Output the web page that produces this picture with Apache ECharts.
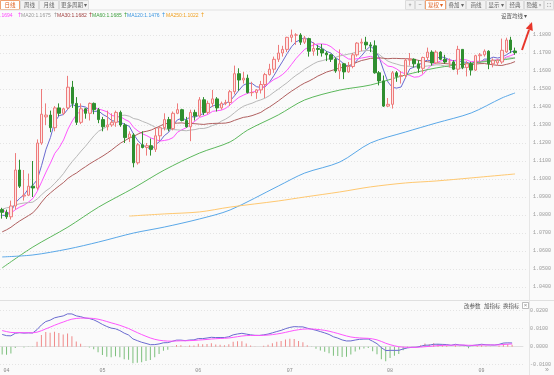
<!DOCTYPE html>
<html><head><meta charset="utf-8">
<script src="https://cdn.jsdelivr.net/npm/echarts@6/dist/echarts.min.js"></script>
<style>html,body{margin:0;padding:0;background:#fafafa}#c{width:554px;height:375px}</style>
</head><body><div id="c"></div><script>
// ---- categories (trading days) ----
const dates = ['03-31',
'04-01','04-02','04-03','04-04','04-07','04-08','04-09','04-10','04-11','04-14','04-15','04-16','04-17','04-18','04-21','04-22','04-23','04-24','04-25','04-28','04-29','04-30',
'05-01','05-02','05-05','05-06','05-07','05-08','05-09','05-12','05-13','05-14','05-15','05-16','05-19','05-20','05-21','05-22','05-23','05-26','05-27','05-28','05-29','05-30',
'06-02','06-03','06-04','06-05','06-06','06-09','06-10','06-11','06-12','06-13','06-16','06-17','06-18','06-19','06-20','06-23','06-24','06-25','06-26','06-27','06-30',
'07-01','07-02','07-03','07-04','07-07','07-08','07-09','07-10','07-11','07-14','07-15','07-16','07-17','07-18','07-21','07-22','07-23','07-24','07-25','07-28','07-29','07-30','07-31',
'08-01','08-04','08-05','08-06','08-07','08-08','08-11','08-12','08-13','08-14','08-15','08-18','08-19','08-20','08-21','08-22','08-25','08-26','08-27','08-28','08-29',
'09-01','09-02','09-03','09-04','09-05','09-08','09-09','09-10'];
const emptySlots = ['', ''];

// ---- candles ----
const openVals = [1.0830,
1.0815,1.0790,1.0850,1.1050,1.0905,1.0910,1.0960,1.0950,1.1200,1.1345,1.1355,1.1285,1.1395,1.1365,1.1395,1.1510,1.1420,1.1315,1.1390,1.1365,1.1420,1.1385,
1.1330,1.1290,1.1300,1.1315,1.1370,1.1300,1.1230,1.1245,1.1090,1.1190,1.1175,1.1185,1.1165,1.1240,1.1285,1.1330,1.1280,1.1365,1.1385,1.1325,1.1290,1.1370,
1.1350,1.1440,1.1370,1.1420,1.1445,1.1395,1.1420,1.1425,1.1485,1.1585,1.1550,1.1560,1.1480,1.1480,1.1495,1.1525,1.1580,1.1610,1.1665,1.1700,1.1720,
1.1787,1.1800,1.1800,1.1760,1.1780,1.1710,1.1725,1.1720,1.1700,1.1690,1.1665,1.1600,1.1640,1.1595,1.1625,1.1690,1.1755,1.1760,1.1745,1.1740,1.1590,1.1545,1.1405,
1.1415,1.1590,1.1570,1.1575,1.1660,1.1665,1.1640,1.1615,1.1675,1.1705,1.1645,1.1705,1.1665,1.1650,1.1650,1.1610,1.1720,1.1620,1.1640,1.1605,1.1685,
1.1690,1.1710,1.1640,1.1645,1.1650,1.1706,1.1772,1.1711];
const closeVals = [1.0815,
1.0790,1.0850,1.1050,1.0960,1.0910,1.0960,1.0950,1.1200,1.1360,1.1355,1.1285,1.1395,1.1365,1.1390,1.1510,1.1420,1.1315,1.1390,1.1365,1.1420,1.1385,1.1330,
1.1290,1.1300,1.1315,1.1370,1.1300,1.1230,1.1250,1.1090,1.1190,1.1175,1.1185,1.1165,1.1240,1.1285,1.1330,1.1280,1.1365,1.1385,1.1325,1.1290,1.1370,1.1350,
1.1440,1.1370,1.1420,1.1445,1.1395,1.1420,1.1425,1.1485,1.1585,1.1550,1.1560,1.1480,1.1480,1.1495,1.1525,1.1580,1.1610,1.1665,1.1700,1.1720,1.1787,
1.1800,1.1800,1.1760,1.1780,1.1710,1.1725,1.1720,1.1700,1.1690,1.1665,1.1600,1.1640,1.1595,1.1625,1.1690,1.1755,1.1760,1.1745,1.1740,1.1590,1.1545,1.1405,1.1415,
1.1590,1.1570,1.1575,1.1660,1.1665,1.1640,1.1615,1.1675,1.1705,1.1645,1.1705,1.1665,1.1650,1.1650,1.1610,1.1720,1.1620,1.1640,1.1605,1.1685,1.1690,
1.1710,1.1640,1.1660,1.1660,1.1715,1.1772,1.1717,1.1702];
const lowVals = [1.0780,
1.0778,1.0775,1.0830,1.0950,1.0880,1.0905,1.0900,1.0940,1.1190,1.1300,1.1260,1.1265,1.1350,1.1355,1.1385,1.1395,1.1300,1.1305,1.1335,1.1325,1.1360,1.1310,
1.1265,1.1270,1.1290,1.1290,1.1290,1.1200,1.1205,1.1065,1.1080,1.1170,1.1130,1.1130,1.1150,1.1210,1.1270,1.1265,1.1270,1.1360,1.1320,1.1285,1.1210,1.1325,
1.1345,1.1355,1.1360,1.1400,1.1375,1.1385,1.1410,1.1405,1.1470,1.1490,1.1530,1.1475,1.1460,1.1445,1.1475,1.1450,1.1575,1.1590,1.1650,1.1680,1.1705,
1.1760,1.1745,1.1745,1.1750,1.1680,1.1685,1.1685,1.1680,1.1655,1.1650,1.1590,1.1555,1.1555,1.1590,1.1615,1.1680,1.1710,1.1720,1.1705,1.1585,1.1520,1.1400,1.1400,
1.1391,1.1540,1.1530,1.1560,1.1630,1.1620,1.1590,1.1585,1.1660,1.1630,1.1640,1.1660,1.1640,1.1620,1.1605,1.1580,1.1610,1.1570,1.1575,1.1600,1.1650,
1.1680,1.1610,1.1620,1.1630,1.1640,1.1700,1.1700,1.1690];
const highVals = [1.0840,
1.0830,1.0880,1.1144,1.1107,1.1050,1.1030,1.1100,1.1220,1.1500,1.1420,1.1380,1.1405,1.1420,1.1395,1.1573,1.1545,1.1455,1.1420,1.1395,1.1425,1.1425,1.1395,
1.1345,1.1380,1.1365,1.1380,1.1380,1.1310,1.1265,1.1255,1.1200,1.1265,1.1200,1.1225,1.1285,1.1290,1.1365,1.1345,1.1375,1.1420,1.1390,1.1345,1.1385,1.1385,
1.1455,1.1455,1.1435,1.1495,1.1455,1.1430,1.1440,1.1495,1.1630,1.1615,1.1595,1.1580,1.1540,1.1500,1.1545,1.1590,1.1640,1.1680,1.1745,1.1740,1.1790,
1.1830,1.1810,1.1810,1.1795,1.1785,1.1760,1.1745,1.1750,1.1710,1.1695,1.1675,1.1720,1.1645,1.1650,1.1700,1.1760,1.1780,1.1790,1.1760,1.1770,1.1600,1.1575,1.1450,
1.1600,1.1600,1.1600,1.1670,1.1700,1.1670,1.1660,1.1680,1.1730,1.1715,1.1715,1.1710,1.1690,1.1670,1.1660,1.1740,1.1720,1.1655,1.1650,1.1690,1.1700,
1.1720,1.1715,1.1670,1.1665,1.1780,1.1785,1.1790,1.1730];

// closes before the window (used only to seed MA / MACD)
const priorCloses = [1.0345,1.0380,1.0405,1.0380,1.0330,1.0305,1.0360,1.0385,1.0465,1.0490,
1.0485,1.0445,1.0420,1.0500,1.0460,1.0465,1.0515,1.0485,1.0400,1.0375,
1.0485,1.0625,1.0790,1.0785,1.0835,1.0830,1.0920,1.0890,1.0850,1.0880,
1.0925,1.0945,1.0900,1.0855,1.0815,1.0800,1.0790,1.0755,1.0800,1.0830];

const ma60Read = [[0,1.0506],[7,1.0622],[15,1.0733],[22,1.0844],[30,1.0950],[37,1.1050],[45,1.1144],[52,1.1206],[56,1.1272],[63,1.1356],[69,1.1439],[77,1.1494],[84,1.1522],[92,1.1578],[99,1.1617],[107,1.1644],[114,1.1661],[117,1.1672]];
const ma120Read = [[0,1.0567],[7,1.0578],[15,1.0611],[22,1.0650],[30,1.0700],[37,1.0733],[45,1.0778],[52,1.0828],[63,1.0961],[69,1.1033],[77,1.1094],[84,1.1200],[92,1.1261],[99,1.1311],[107,1.1367],[114,1.1450],[117,1.1478]];
const ma250Read = [[29,1.0794],[37,1.0806],[45,1.0817],[52,1.0844],[63,1.0878],[69,1.0900],[77,1.0928],[84,1.0956],[92,1.0978],[99,1.0989],[107,1.1006],[117,1.1028]];

// axis ticks
const priceMin = 1.04, priceMax = 1.18, priceStep = 0.01;
const macdMin = -0.01, macdMax = 0.02, macdStep = 0.01;

// legend texts
const legendItems = [['.1694','#ff44ff'],['MA20:1.1675','#999999'],['MA30:1.1682','#a04040'],['MA60:1.1685','#40a040'],['MA120:1.1476','#3c96e0'],['MA250:1.1022','#f0a020']];

// ---------- build ----------
const cats = dates.concat(emptySlots);
const N = dates.length;
const allC = priorCloses.concat(closeVals);
const P = priorCloses.length;
function ma(n){ const out=[]; for(let i=P;i<allC.length;i++){ let s=0; for(let j=i-n+1;j<=i;j++) s+=allC[j]; out.push(+(s/n).toFixed(5)); } return out; }
function ema(arr,n){ const k=2/(n+1); const out=[]; let e=arr[0]; arr.forEach((v,i)=>{ e = i===0? v : v*k+e*(1-k); out.push(e); }); return out; }
const e12=ema(allC,12), e26=ema(allC,26);
const difAll=allC.map((v,i)=>e12[i]-e26[i]);
const deaAll=ema(difAll,9);
const dif=difAll.slice(P), dea=deaAll.slice(P);
const hist=dif.map((d,i)=>2*(d-dea[i]));
const kdata = openVals.map((o,i)=>[o, closeVals[i], lowVals[i], highVals[i]]);

function maLine(name, data, color){ return {name, type:'line', data, xAxisIndex:0, yAxisIndex:0, showSymbol:false, symbol:'none', clip:false, lineStyle:{width:1,color}, itemStyle:{color}, z:3, silent:true}; }
function readLine(name, pts, color){ const s=maLine(name, pts, color); s.smooth=0.3; return s; }

const monthLabel = (i)=>{ if(i<=0||i>=N) return false; return cats[i].slice(0,2)!==cats[i-1].slice(0,2); };

const ff = "'Noto Sans CJK SC','Noto Sans',sans-serif";
const g = [];
function btn(x,w,label,active){
  g.push({type:'rect',shape:{x:x+0.5,y:0.5,width:w-1,height:9},style:{fill:active?'#fff':'#f2f2f2',stroke:active?'#f0a070':'#dcdcdc',lineWidth:1},silent:true});
  g.push({type:'text',x:x+w/2,y:5,style:{text:label,fill:active?'#e06020':'#666',font:'5.5px '+ff,textAlign:'center',textVerticalAlign:'middle'},silent:true});
}
btn(0,20,'日线',true); btn(20,19,'周线'); btn(39,20,'月线'); btn(59,30,'更多周期 ▾');
btn(405,10,'+'); btn(415,10,'−'); btn(425,21,'复权 ▾',true); btn(446,20,'叠加 ▾'); btn(466,20,'画线'); btn(486,20,'显示 ▾'); btn(506,18,'经典'); btn(524,20,'隐藏 »'); btn(544,10,'⛶');
g.push({type:'line',shape:{x1:0,y1:10,x2:554,y2:10},style:{stroke:'#e2e2e2',lineWidth:1},silent:true});
// legend row
const legendX=[0,21,57,92,127,166], arrowX=[17,53,88,123,161,200];
legendItems.forEach((it,i)=>{
  g.push({type:'text',x:legendX[i],y:15.5,style:{text:it[0],fill:it[1],font:"5px 'Liberation Sans',sans-serif",textVerticalAlign:'middle'},silent:true});
  g.push({type:'text',x:arrowX[i],y:15.5,style:{text:'↑',fill:it[1],font:"6px 'DejaVu Sans',sans-serif",textVerticalAlign:'middle'},silent:true});
});
g.push({type:'text',x:501,y:15.5,style:{text:'设置均线 ▾',fill:'#555',font:'5.5px '+ff,textVerticalAlign:'middle'},silent:true});
// separators
g.push({type:'line',shape:{x1:0,y1:300.5,x2:554,y2:300.5},style:{stroke:'#e0e0e0',lineWidth:1},silent:true});
g.push({type:'line',shape:{x1:529.5,y1:22,x2:529.5,y2:375},style:{stroke:'#e6e6e6',lineWidth:1},silent:true});
// MACD panel tools
[['改参数',464],['加指标',484],['换指标',503]].forEach(t=>g.push({type:'text',x:t[1],y:306,style:{text:t[0],fill:'#555',font:'5.5px '+ff,textVerticalAlign:'middle'},silent:true}));
g.push({type:'rect',shape:{x:522.5,y:302.5,width:6,height:6},style:{fill:'#fff',stroke:'#aaa',lineWidth:0.8},silent:true});
g.push({type:'text',x:525.5,y:305.7,style:{text:'×',fill:'#888',font:'6px sans-serif',textAlign:'center',textVerticalAlign:'middle'},silent:true});
g.push({type:'text',x:547,y:370,style:{text:'»',fill:'#999',font:'7px sans-serif',textAlign:'center',textVerticalAlign:'middle'},silent:true});
// red arrow annotation
g.push({type:'line',shape:{x1:522,y1:50,x2:529,y2:30},style:{stroke:'#e8352a',lineWidth:2},silent:true});
g.push({type:'polygon',shape:{points:[[532,22],[532.8,31],[525.8,28.6]]},style:{fill:'#e8352a'},silent:true});

const chart = echarts.init(document.getElementById('c'), null, {renderer:'canvas'});
chart.setOption({
  animation:false,
  backgroundColor:'#fafafa',
  grid:[{left:0,right:25,top:35,height:252},{left:0,right:25,top:310.7,height:54}],
  xAxis:[
    {type:'category',data:cats,gridIndex:0,boundaryGap:true,axisLine:{show:false},axisTick:{show:false},axisLabel:{show:false},splitLine:{show:false}},
    {type:'category',data:cats,gridIndex:1,boundaryGap:true,axisLine:{show:true,lineStyle:{color:'#e0e0e0'}},axisTick:{show:false},
     axisLabel:{interval:(i)=>monthLabel(i),formatter:(v)=>v.slice(0,2),color:'#888',fontSize:5,fontFamily:'Liberation Mono',margin:3},splitLine:{show:false}}
  ],
  yAxis:[
    {type:'value',gridIndex:0,position:'right',min:priceMin,max:priceMax,interval:priceStep,axisLine:{show:false},axisTick:{show:false},
     axisLabel:{formatter:(v)=>v.toFixed(4),color:'#999',fontSize:5,fontFamily:'Liberation Mono',margin:7},
     splitLine:{show:true,lineStyle:{color:'#e4e4e4',type:[1,2]}}},
    {type:'value',gridIndex:1,position:'right',min:macdMin,max:macdMax,interval:macdStep,axisLine:{show:false},axisTick:{show:false},
     axisLabel:{formatter:(v)=>v.toFixed(4),color:'#999',fontSize:5,fontFamily:'Liberation Mono',margin:7},
     splitLine:{show:true,lineStyle:{color:'#e4e4e4',type:[1,2]}}}
  ],
  graphic:g,
  series:[
    {type:'candlestick',data:kdata,xAxisIndex:0,yAxisIndex:0,barWidth:3,clip:false,z:4,
     itemStyle:{color:'#fde6e6',borderColor:'#ee7b7b',color0:'#2f8f2f',borderColor0:'#2f8f2f',borderWidth:1},
     markPoint:{symbol:'circle',symbolSize:1.5,itemStyle:{color:'#f07040'},
       label:{show:true,position:'right',distance:1,formatter:'←1.1830',color:'#f07040',fontSize:5,fontFamily:'Liberation Mono'},
       data:[{coord:[66,1.1830]}]}},
    maLine('MA5',ma(5),'#6a6ad0'),
    maLine('MA10',ma(10),'#ff55ff'),
    maLine('MA20',ma(20),'#b8b8b8'),
    maLine('MA30',ma(30),'#b06060'),
    readLine('MA60',ma60Read,'#5cb85c'),
    readLine('MA120',ma120Read,'#5aa8e8'),
    readLine('MA250',ma250Read,'#ffc870'),
    {type:'bar',data:hist.map(v=>({value:v,itemStyle:{color:v>=0?'#f08a8a':'#7cbf7c'}})),xAxisIndex:1,yAxisIndex:1,barWidth:1,clip:false,silent:true},
    {type:'line',data:dif,xAxisIndex:1,yAxisIndex:1,showSymbol:false,symbol:'none',clip:false,lineStyle:{width:1,color:'#6a6ad0'},silent:true},
    {type:'line',data:dea,xAxisIndex:1,yAxisIndex:1,showSymbol:false,symbol:'none',clip:false,lineStyle:{width:1,color:'#ff55ff'},silent:true}
  ]
});
</script></body></html>
